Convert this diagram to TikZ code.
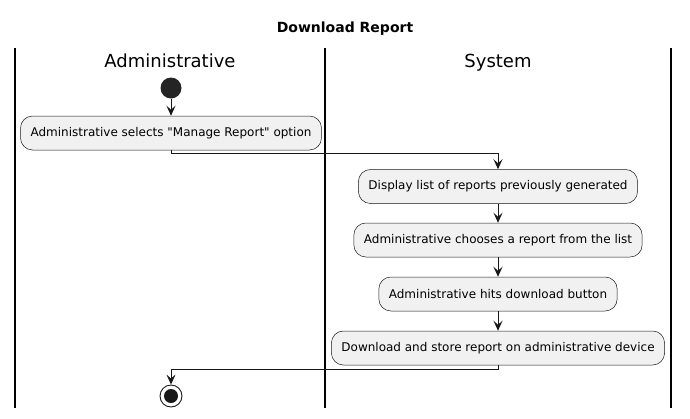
\documentclass[tikz,border=0pt]{standalone}
\usepackage{fontspec}
\setmainfont{DejaVu Sans}[Ligatures=TeXOff]
\usetikzlibrary{arrows.meta}
\definecolor{dark}{HTML}{181818}
\definecolor{boxfill}{HTML}{F1F1F1}
\tikzset{
  act/.style={draw=dark,fill=boxfill,rounded corners=12pt,line width=0.5pt,
    minimum height=34pt,inner xsep=10pt,font=\fontsize{12}{14}\selectfont},
  flow/.style={draw=dark,line width=0.9pt,-{Stealth[length=10pt,width=9pt,inset=4pt]}},
  lane/.style={line width=1.3pt,black},
  head/.style={anchor=base,font=\fontsize{18}{20}\selectfont},
  start/.style={circle,fill=dark!95!white,minimum size=21pt,inner sep=0pt},
  stop/.style={circle,draw=dark,line width=0.9pt,minimum size=22pt,inner sep=0pt,
    path picture={\fill[dark] (path picture bounding box.center) circle (7pt);}}
}
\begin{document}
\begin{tikzpicture}[x=1pt,y=-1pt]
      \useasboundingbox (0,0) rectangle (690,418);
      % lanes
      \draw[lane] (15,48) -- (15,408);
      \draw[lane] (325,48) -- (325,408);
      \draw[lane] (671,48) -- (671,408);
      \node[anchor=base,font=\bfseries\fontsize{14}{16}\selectfont] (title) at (345,32) {Download Report};
      \node[head] (admin) at (170,67) {Administrative};
      \node[head] (sys) at (498,67) {System};
      % activities
      \node[start] (begin) at (171,88) {};
      \node[act] (a1) at (171,133) {Administrative selects "Manage Report" option};
      \node[act] (a2) at (498,186.5) {Display list of reports previously generated};
      \node[act] (a3) at (498,240) {Administrative chooses a report from the list};
      \node[act] (a4) at (498,294) {Administrative hits download button};
      \node[act] (a5) at (498,348) {Download and store report on administrative device};
      \node[stop] (end) at (171,396) {};
      \begin{scope}[flow]
        \draw (begin) to (a1);
        \draw (a1.south) -- ++(0,3) -| (a2.north);
        \draw (a2) to (a3);
        \draw (a3) to (a4);
        \draw (a4) to (a5);
        \draw (a5.south) -- ++(0,4) -| (end.north);
      \end{scope}
    \end{tikzpicture}
\end{document}
